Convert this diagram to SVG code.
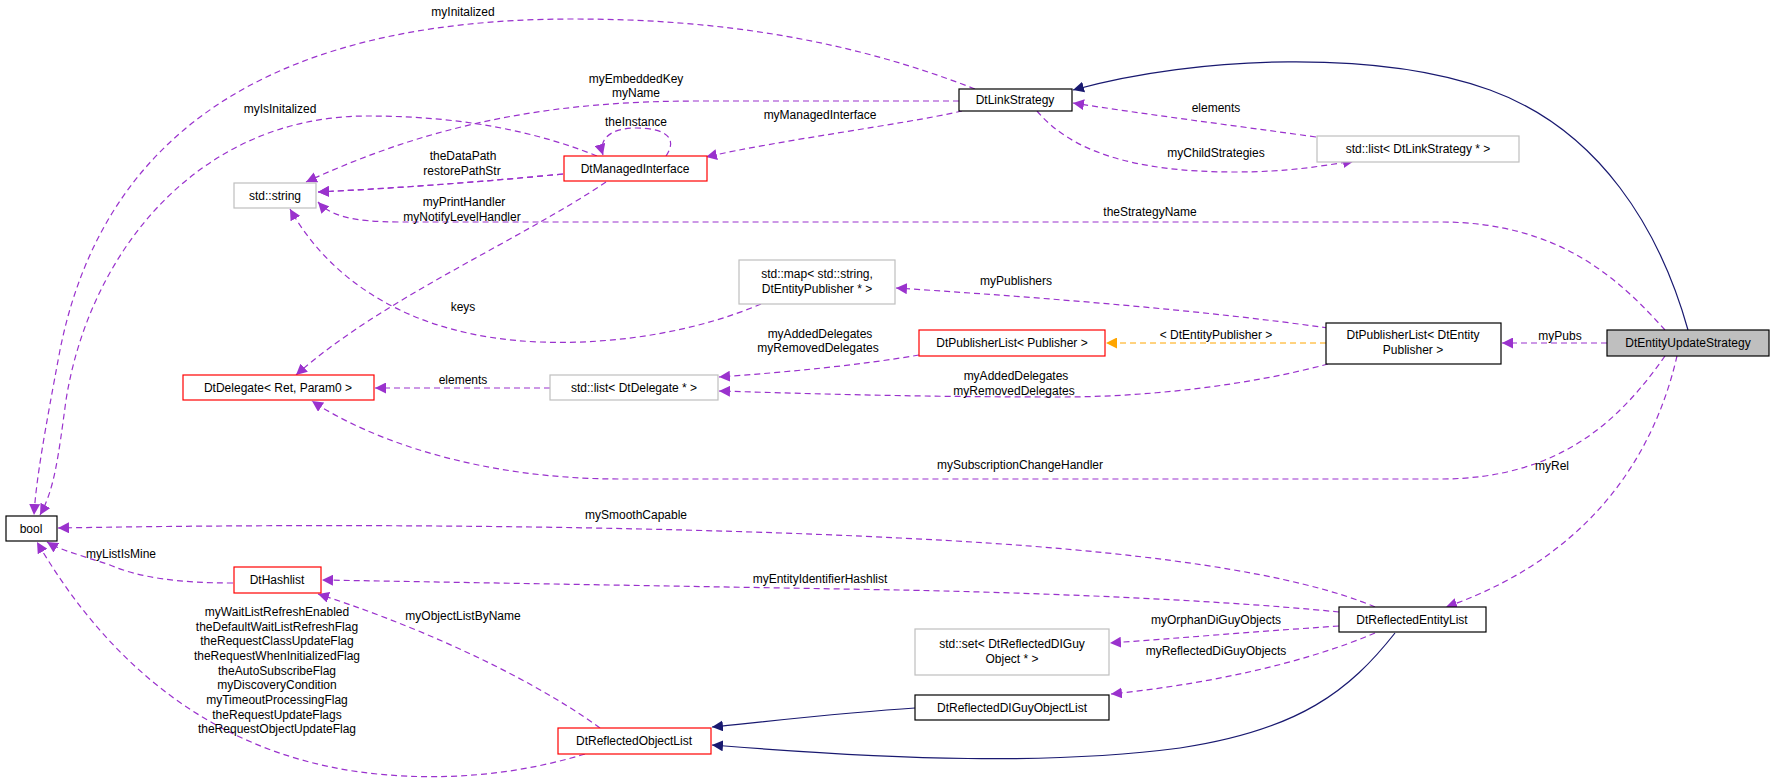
<svg xmlns="http://www.w3.org/2000/svg" width="1776" height="782" viewBox="0 0 1776 782">
<style>
text{font-family:"Liberation Sans",Arial,sans-serif;font-size:12px;fill:#000;text-anchor:middle}
.n rect{fill:#fff;stroke:#000;stroke-width:1.2}
.r rect{stroke:#ff0000}
.g rect{stroke:#bfbfbf}
.d{fill:none;stroke:#9a32cd;stroke-width:1.2;stroke-dasharray:6,4;marker-end:url(#ap)}
.o{fill:none;stroke:#ffa500;stroke-width:1.2;stroke-dasharray:6,4;marker-end:url(#ao)}
.s{fill:none;stroke:#191970;stroke-width:1.2;marker-end:url(#an)}
</style>
<defs>
<marker id="ap" viewBox="0 0 10 10" refX="10" refY="5" markerWidth="11" markerHeight="11" markerUnits="userSpaceOnUse" orient="auto"><path d="M0,0L10,5L0,10z" fill="#9a32cd"/></marker>
<marker id="ao" viewBox="0 0 10 10" refX="10" refY="5" markerWidth="11" markerHeight="11" markerUnits="userSpaceOnUse" orient="auto"><path d="M0,0L10,5L0,10z" fill="#ffa500"/></marker>
<marker id="an" viewBox="0 0 10 10" refX="10" refY="5" markerWidth="11" markerHeight="11" markerUnits="userSpaceOnUse" orient="auto"><path d="M0,0L10,5L0,10z" fill="#191970"/></marker>
</defs>
<rect width="1776" height="782" fill="#fff"/>
<g id="edges">
<path class="s" d="M1688,330 C1660,230 1600,130 1490,90 C1380,50 1200,55 1073,90"/>
<path class="d" d="M1665,330 C1620,280 1560,222 1440,222 L400,222 C350,222 330,215 318,202"/>
<text x="1150" y="216">theStrategyName</text>
<path class="d" d="M1607,343 L1502,343"/>
<text x="1560" y="340">myPubs</text>
<path class="d" d="M1665,356 C1620,420 1560,479 1440,479 L620,479 C480,479 370,440 312,401"/>
<text x="1020" y="469">mySubscriptionChangeHandler</text>
<path class="d" d="M1677,356 C1660,430 1610,550 1446,607"/>
<text x="1552" y="470">myRel</text>
<path class="d" d="M975,89 C850,40 720,19 574,19 C250,19 100,150 60,350 C45,430 36,480 34,515"/>
<text x="463" y="16">myInitalized</text>
<path class="d" d="M959,101 L700,101 C560,101 440,120 306,182"/>
<text x="636" y="83">myEmbeddedKey</text>
<text x="636" y="97">myName</text>
<path class="d" d="M962,111 C900,125 780,140 706,157"/>
<text x="820" y="119">myManagedInterface</text>
<path class="d" d="M1037,111 C1070,150 1130,172 1235,172 C1290,172 1320,166 1354,161"/>
<text x="1216" y="157">myChildStrategies</text>
<path class="d" d="M1316,137 C1230,125 1150,115 1073,103"/>
<text x="1216" y="112">elements</text>
<path class="d" d="M597,156 C520,125 440,116 367,116 C200,116 90,250 66,400 C58,460 54,490 40,515"/>
<text x="280" y="113">myIsInitalized</text>
<path class="d" d="M666,156 C680,135 660,128 636,128 C612,128 598,138 603,155"/>
<text x="636" y="126">theInstance</text>
<path class="d" d="M563,174 C480,182 400,188 318,192"/>
<text x="463" y="160">theDataPath</text>
<path class="d" d="M563,174 C480,182 400,188 318,192"/>
<text x="462" y="175">restorePathStr</text>
<path class="d" d="M606,182 C520,240 380,300 296,375"/>
<text x="464" y="206">myPrintHandler</text>
<text x="462" y="221">myNotifyLevelHandler</text>
<path class="d" d="M761,304 C700,330 620,345 540,342 C410,337 330,280 290,209"/>
<text x="463" y="311">keys</text>
<path class="d" d="M1328,328 C1200,310 1050,298 896,288"/>
<text x="1016" y="285">myPublishers</text>
<path class="o" d="M1326,343 L1106,343"/>
<text x="1216" y="339">&lt; DtEntityPublisher &gt;</text>
<path class="d" d="M1328,364 C1250,385 1150,397 1060,397 C900,397 790,393 719,391"/>
<text x="1016" y="380">myAddedDelegates</text>
<text x="1014" y="395">myRemovedDelegates</text>
<path class="d" d="M919,355 C860,365 790,372 719,377"/>
<text x="820" y="338">myAddedDelegates</text>
<text x="818" y="352">myRemovedDelegates</text>
<path class="d" d="M550,388 L375,388"/>
<text x="463" y="384">elements</text>
<path class="d" d="M1375,607 C1300,575 1150,550 900,538 C700,528 400,522 58,528"/>
<text x="636" y="519">mySmoothCapable</text>
<path class="d" d="M1339,612 C1200,598 1000,592 900,590 L322,580"/>
<text x="820" y="583">myEntityIdentifierHashlist</text>
<path class="d" d="M1339,626 C1250,632 1180,638 1110,643"/>
<text x="1216" y="624">myOrphanDiGuyObjects</text>
<path class="d" d="M1375,633 C1300,665 1200,685 1111,694"/>
<text x="1216" y="655">myReflectedDiGuyObjects</text>
<path class="s" d="M1395,633 C1350,690 1300,730 1180,748 C1050,765 900,760 712,745"/>
<path class="s" d="M915,708 C850,712 780,720 712,727"/>
<path class="d" d="M600,728 C520,670 400,620 318,594"/>
<text x="463" y="620">myObjectListByName</text>
<path class="d" d="M585,754 C500,780 420,780 360,772 C200,750 100,650 37,542"/>
<text x="277" y="616">myWaitListRefreshEnabled</text>
<text x="277" y="631">theDefaultWaitListRefreshFlag</text>
<text x="277" y="645">theRequestClassUpdateFlag</text>
<text x="277" y="660">theRequestWhenInitializedFlag</text>
<text x="277" y="675">theAutoSubscribeFlag</text>
<text x="277" y="689">myDiscoveryCondition</text>
<text x="277" y="704">myTimeoutProcessingFlag</text>
<text x="277" y="719">theRequestUpdateFlags</text>
<text x="277" y="733">theRequestObjectUpdateFlag</text>
<path class="d" d="M233,583 C180,583 140,578 110,565 C80,555 60,550 47,542"/>
<text x="121" y="558">myListIsMine</text>
</g>
<g id="DtEntityUpdateStrategy" class="n"><rect x="1607" y="330" width="162" height="26" style="fill:#bfbfbf"/><text x="1688" y="347">DtEntityUpdateStrategy</text></g>
<g id="DtLinkStrategy" class="n"><rect x="959" y="89" width="113" height="22"/><text x="1015" y="104">DtLinkStrategy</text></g>
<g id="bool" class="n"><rect x="6" y="516" width="51" height="25"/><text x="31" y="533">bool</text></g>
<g id="stdstring" class="n g"><rect x="234" y="183" width="82" height="25"/><text x="275" y="200">std::string</text></g>
<g id="DtManagedInterface" class="n r"><rect x="564" y="156" width="143" height="25"/><text x="635" y="173">DtManagedInterface</text></g>
<g id="listLinkStrategy" class="n g"><rect x="1317" y="136" width="202" height="26"/><text x="1418" y="153">std::list&lt; DtLinkStrategy * &gt;</text></g>
<g id="stdmap" class="n g"><rect x="739" y="260" width="156" height="44"/><text x="817" y="278">std::map&lt; std::string,</text><text x="817" y="293">DtEntityPublisher * &gt;</text></g>
<g id="DtPublisherListPublisher" class="n r"><rect x="919" y="330" width="186" height="26"/><text x="1012" y="347">DtPublisherList&lt; Publisher &gt;</text></g>
<g id="DtPublisherListEntity" class="n"><rect x="1326" y="323" width="175" height="41"/><text x="1413" y="339">DtPublisherList&lt; DtEntity</text><text x="1413" y="354">Publisher &gt;</text></g>
<g id="DtDelegate" class="n r"><rect x="183" y="375" width="191" height="25"/><text x="278" y="392">DtDelegate&lt; Ret, Param0 &gt;</text></g>
<g id="listDelegate" class="n g"><rect x="550" y="375" width="168" height="25"/><text x="634" y="392">std::list&lt; DtDelegate * &gt;</text></g>
<g id="DtHashlist" class="n r"><rect x="234" y="567" width="87" height="26"/><text x="277" y="584">DtHashlist</text></g>
<g id="DtReflectedEntityList" class="n"><rect x="1339" y="607" width="147" height="25"/><text x="1412" y="624">DtReflectedEntityList</text></g>
<g id="stdset" class="n g"><rect x="915" y="629" width="194" height="46"/><text x="1012" y="648">std::set&lt; DtReflectedDIGuy</text><text x="1012" y="663">Object * &gt;</text></g>
<g id="DtReflectedDIGuyObjectList" class="n"><rect x="915" y="695" width="194" height="25"/><text x="1012" y="712">DtReflectedDIGuyObjectList</text></g>
<g id="DtReflectedObjectList" class="n r"><rect x="558" y="728" width="153" height="26"/><text x="634" y="745">DtReflectedObjectList</text></g>
</svg>
